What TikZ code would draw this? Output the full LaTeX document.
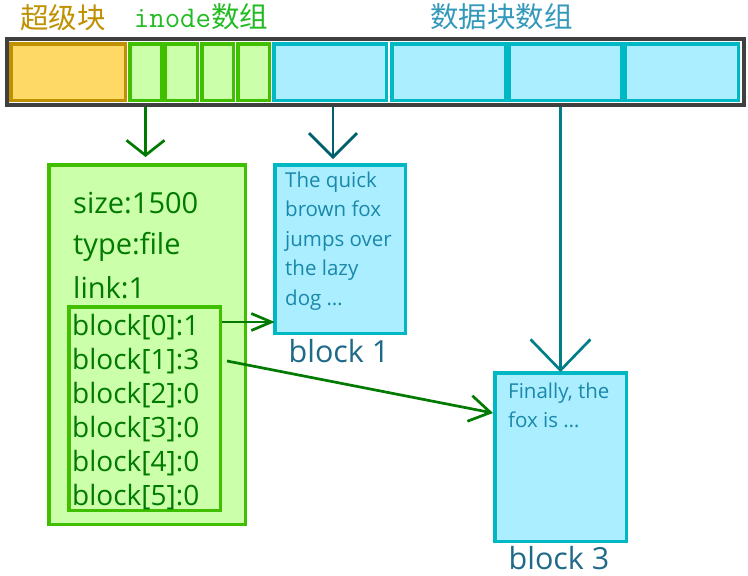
\documentclass[tikz,border=0pt]{standalone}
\usepackage{fontspec}
\setmainfont{Open Sans}
\newfontfamily\cjk{Noto Sans CJK SC}
\usetikzlibrary{arrows.meta,calc}
\definecolor{barc}{HTML}{404040}
\definecolor{sbfill}{HTML}{FFD966}
\definecolor{sbdraw}{HTML}{BF9000}
\definecolor{infill}{HTML}{CCFFAA}
\definecolor{indraw}{HTML}{3FBF00}
\definecolor{dbfill}{HTML}{AAEEFF}
\definecolor{dbdraw}{HTML}{00B8C4}
\definecolor{agreen}{HTML}{007A00}
\definecolor{ateal}{HTML}{00606E}
\definecolor{ateal2}{HTML}{007F88}
\definecolor{sblab}{HTML}{BF9000}
\definecolor{inlab}{HTML}{22BB22}
\definecolor{dblab}{HTML}{3399BB}
\definecolor{intext}{HTML}{007A00}
\definecolor{dbtext}{HTML}{1A88AA}
\definecolor{blab}{HTML}{1F6A88}
\tikzset{
  box/.style={rectangle, inner sep=0pt, outer sep=0pt},
  barbox/.style={box, draw=barc, line width=4pt},
  sbcell/.style={box, draw=sbdraw, fill=sbfill, line width=3.5pt},
  incell/.style={box, draw=indraw, fill=infill, line width=3.5pt},
  dbcell/.style={box, draw=dbdraw, fill=dbfill, line width=3.5pt},
  intxt/.style={inner sep=0pt, anchor=base west, text=intext, font=\fontsize{29}{34}\selectfont},
  blktxt/.style={intxt, font=\fontsize{28}{34}\selectfont},
  dbtxt/.style={inner sep=0pt, anchor=base west, text=dbtext, font=\fontsize{20.5}{29}\selectfont},
  blabel/.style={inner sep=0pt, anchor=base, text=blab, font=\fontsize{30.5}{34}\selectfont},
  toplab/.style={inner sep=0pt, font=\fontsize{28.5}{32}\selectfont\cjk},
  garrow/.style={draw=agreen, line width=2.7pt},
  tarrow/.style={draw=ateal, line width=2.7pt},
}
\begin{document}
\begin{tikzpicture}[x=1pt,y=-1pt]
\path[use as bounding box] (0,0) rectangle (748,576);
% top labels
\node[toplab, text=sblab] (lsb) at (63,17.5) {超级块};
\node[toplab, text=inlab] (lin) at (201,16.5) {{\fontsize{30}{32}\selectfont\ttfamily inode}数组};
\node[toplab, text=dblab] (ldb) at (501.5,17) {数据块数组};
% bar
\node[barbox, minimum width=737pt, minimum height=66pt] (bar) at (375.5,72) {};
\node[sbcell, minimum width=114.5pt, minimum height=56.5pt] (sb) at (68,72) {};
\node[incell, minimum width=31.5pt, minimum height=56.5pt] (i1) at (145.5,72) {};
\node[incell, minimum width=32.5pt, minimum height=56.5pt] (i2) at (181,72) {};
\node[incell, minimum width=31.5pt, minimum height=56.5pt] (i3) at (217.5,72) {};
\node[incell, minimum width=31.5pt, minimum height=56.5pt] (i4) at (253.5,72) {};
\node[dbcell, minimum width=112.5pt, minimum height=56.5pt] (d1) at (330,72) {};
\node[dbcell, minimum width=113.5pt, minimum height=56.5pt] (d2) at (448.5,72) {};
\node[dbcell, minimum width=112.5pt, minimum height=56.5pt] (d3) at (565,72) {};
\node[dbcell, minimum width=113.5pt, minimum height=56.5pt] (d4) at (681.5,72) {};
% inode box
\node[incell, line width=3.5pt, minimum width=196.5pt, minimum height=359.5pt] (ino) at (147,344.5) {};
\node[box, draw=indraw, line width=3.5pt, minimum width=151.5pt, minimum height=203.5pt] (inner) at (144.5,408.5) {};
\node[intxt] (tsize) at (73,213) {size:1500};
\node[intxt] (ttype) at (73,254) {type:file};
\node[intxt] (tlink) at (73,298) {link:1};
\node[blktxt] (l0) at (72,335) {block[0]:1};
\node[blktxt] (l1) at (72,369) {block[1]:3};
\node[blktxt] (l2) at (72,403) {block[2]:0};
\node[blktxt] (l3) at (72,437) {block[3]:0};
\node[blktxt] (l4) at (72,471) {block[4]:0};
\node[blktxt] (l5) at (72,505) {block[5]:0};
% data blocks
\node[dbcell, minimum width=130.5pt, minimum height=168.5pt] (b1) at (340,249) {};
\node[dbtxt] (q1) at (285,187) {The quick};
\node[dbtxt] (q2) at (285,216) {brown fox};
\node[dbtxt] (q3) at (285,246) {jumps over};
\node[dbtxt] (q4) at (285,275) {the lazy};
\node[dbtxt] (q5) at (285,305) {dog …};
\node[blabel] (lb1) at (339,362) {block 1};
\node[dbcell, minimum width=131.5pt, minimum height=168.5pt] (b3) at (560.5,457) {};
\node[dbtxt] (f1) at (508,398) {Finally, the};
\node[dbtxt] (f2) at (508,427) {fox is …};
\node[blabel] (lb3) at (559,569.5) {block 3};
% arrows
\coordinate (s0) at (222,322);
\coordinate (s1) at (227,361);
\coordinate (e1) at (493,413);
\draw[garrow, shorten <=2pt, shorten >=7.75pt, -{Straight Barb[length=15pt,width=38pt]}]
  (i1.south |- bar.south) -- (i1.south |- ino.north);
\draw[tarrow, shorten <=2pt, shorten >=5.75pt, -{Straight Barb[length=24pt,width=48pt]}]
  ($(d1.south |- bar.south)+(3,0)$) -- ($(d1.south |- b1.north)+(3,0)$);
\draw[tarrow, draw=ateal2, shorten <=2pt, shorten >=0.5pt, -{Straight Barb[length=31pt,width=60pt]}]
  (b3.north |- bar.south) -- (b3.north);
\draw[garrow, -{Straight Barb[length=20pt,width=17pt]}] (s0) -- (s0 -| b1.west);
\draw[garrow, -{Straight Barb[length=21pt,width=26pt]}] (s1) -- (e1);
\end{tikzpicture}
\end{document}
